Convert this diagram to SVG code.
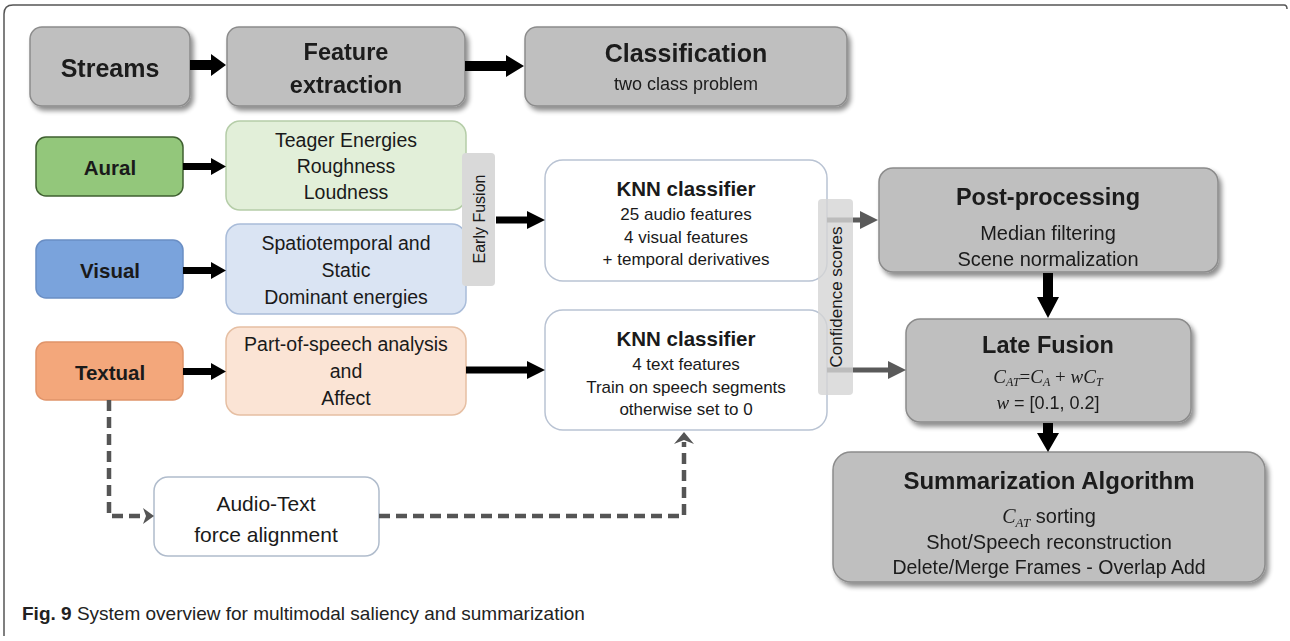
<svg xmlns="http://www.w3.org/2000/svg" width="1290" height="641" viewBox="0 0 1290 641">
<defs>
<style>
.t{font-family:"Liberation Sans",Arial,sans-serif;fill:#1a1a1a;text-anchor:middle;dominant-baseline:central}
.b{font-weight:bold}
.gray{fill:#bfbfbf;stroke:#8c8c8c;stroke-width:1.5}
.m{font-family:"Liberation Serif","Times New Roman",serif;font-style:italic;fill:#1a1a1a}
.blk{fill:#000}
.grf{fill:#5a5a5a}
.dash{stroke:#555;fill:none;stroke-width:4.5;stroke-dasharray:11 6}
</style>
<filter id="sh" x="-10%" y="-10%" width="125%" height="130%">
<feGaussianBlur in="SourceAlpha" stdDeviation="2.5"/>
<feOffset dx="3" dy="4" result="o"/>
<feComponentTransfer><feFuncA type="linear" slope="0.45"/></feComponentTransfer>
<feMerge><feMergeNode/><feMergeNode in="SourceGraphic"/></feMerge>
</filter>
</defs>
<rect width="1290" height="641" fill="#fff"/>
<path d="M4,636 L4,14 Q4,5 13,5 L1284,5 Q1287,5 1287,9" fill="none" stroke="#555" stroke-width="1.5"/>

<g id="streams" filter="url(#sh)"><rect class="gray" x="30" y="27" width="160" height="79" rx="12"/><text class="t b" x="110" y="68" font-size="25">Streams</text></g>
<g id="feature-extraction" filter="url(#sh)"><rect class="gray" x="227" y="27" width="238" height="79" rx="12"/><text class="t b" x="346" y="52" font-size="23.5">Feature</text><text class="t b" x="346" y="85" font-size="23.5">extraction</text></g>
<g id="classification" filter="url(#sh)"><rect class="gray" x="525" y="27" width="322" height="79" rx="12"/><text class="t b" x="686" y="53" font-size="25">Classification</text><text class="t" x="686" y="84" font-size="18" fill="#333">two class problem</text></g>

<g id="aural"><rect x="36" y="137" width="147" height="59" rx="10" fill="#93c77b" stroke="#3f6030" stroke-width="1.5"/><text class="t b" x="110" y="167" font-size="20.5">Aural</text></g>
<g id="visual"><rect x="36" y="240" width="147" height="58" rx="10" fill="#7aa3dc" stroke="#6a8ec4" stroke-width="1.5"/><text class="t b" x="110" y="270" font-size="20.5" fill="#0f1d33">Visual</text></g>
<g id="textual"><rect x="36" y="342" width="147" height="58" rx="10" fill="#f3a77b" stroke="#e0946a" stroke-width="1.5"/><text class="t b" x="110" y="372" font-size="20.5">Textual</text></g>

<g id="aural-features"><rect x="226" y="121" width="240" height="89" rx="14" fill="#e2efd9" stroke="#b5cda8" stroke-width="1.5"/><text class="t" x="346" y="140" font-size="19.5">Teager Energies</text><text class="t" x="346" y="166" font-size="19.5">Roughness</text><text class="t" x="346" y="192" font-size="19.5">Loudness</text></g>
<g id="visual-features"><rect x="226" y="224" width="240" height="90" rx="14" fill="#dae4f3" stroke="#a9bcd9" stroke-width="1.5"/><text class="t" x="346" y="243" font-size="19.5">Spatiotemporal and</text><text class="t" x="346" y="270" font-size="19.5">Static</text><text class="t" x="346" y="297" font-size="19.5">Dominant energies</text></g>
<g id="text-features"><rect x="226" y="327" width="240" height="88" rx="14" fill="#fbe4d5" stroke="#e6bfa3" stroke-width="1.5"/><text class="t" x="346" y="344" font-size="19.5">Part-of-speech analysis</text><text class="t" x="346" y="371" font-size="19.5">and</text><text class="t" x="346" y="398" font-size="19.5">Affect</text></g>

<g id="knn-av"><rect x="545" y="160" width="282" height="121" rx="18" fill="#fff" stroke="#b9c3d3" stroke-width="1.5"/><text class="t b" x="686" y="188" font-size="20.5">KNN classifier</text><text class="t" x="686" y="214" font-size="17">25 audio features</text><text class="t" x="686" y="237" font-size="17">4 visual  features</text><text class="t" x="686" y="259" font-size="17">+ temporal  derivatives</text></g>
<g id="knn-text"><rect x="545" y="310" width="282" height="120" rx="18" fill="#fff" stroke="#b9c3d3" stroke-width="1.5"/><text class="t b" x="686" y="338" font-size="20.5">KNN classifier</text><text class="t" x="686" y="364" font-size="17">4 text features</text><text class="t" x="686" y="387" font-size="17">Train on speech segments</text><text class="t" x="686" y="409" font-size="17">otherwise set to 0</text></g>

<g id="post-processing" filter="url(#sh)"><rect class="gray" x="879" y="168" width="339" height="104" rx="14"/><text class="t b" x="1048" y="197" font-size="23.5">Post-processing</text><text class="t" x="1048" y="233" font-size="20">Median filtering</text><text class="t" x="1048" y="259" font-size="20">Scene normalization</text></g>
<g id="late-fusion" filter="url(#sh)"><rect class="gray" x="906" y="319" width="285" height="103" rx="14"/><text class="t b" x="1048" y="345" font-size="23.5">Late Fusion</text>
<text class="m" x="1048" y="383" font-size="19" text-anchor="middle">C<tspan font-size="12" dy="3">AT</tspan><tspan dy="-3" font-style="normal">=</tspan>C<tspan font-size="12" dy="3">A</tspan><tspan dy="-3" font-style="normal"> + </tspan>wC<tspan font-size="12" dy="3">T</tspan></text>
<text class="m" x="1048" y="409" font-size="19" text-anchor="middle">w<tspan font-style="normal" font-family="Liberation Sans,Arial,sans-serif" font-size="18"> = [0.1, 0.2]</tspan></text></g>
<g id="summarization" filter="url(#sh)"><rect class="gray" x="833" y="452" width="432" height="130" rx="18"/><text class="t b" x="1049" y="480" font-size="24">Summarization Algorithm</text>
<text class="m" x="1049" y="523" font-size="20" text-anchor="middle">C<tspan font-size="13" dy="4">AT</tspan><tspan dy="-4" font-style="normal" font-family="Liberation Sans,Arial,sans-serif" font-size="20"> sorting</tspan></text>
<text class="t" x="1049" y="542" font-size="20">Shot/Speech reconstruction</text><text class="t" x="1049" y="567" font-size="19.5">Delete/Merge Frames - Overlap Add</text></g>

<g id="audio-text-alignment"><rect x="154" y="477" width="225" height="79" rx="14" fill="#fff" stroke="#b0bccc" stroke-width="1.5"/><text class="t" x="266" y="503" font-size="21">Audio-Text</text><text class="t" x="266" y="534" font-size="21">force alignment</text></g>

<g id="connectors">
<path class="blk" d="M190,60 H211 V54 L226,65 L211,76 V70 H190 Z"/>
<path class="blk" d="M465,61 H506 V55 L524,66 L506,77 V71 H465 Z"/>
<path class="blk" d="M183,163 H211 V158 L226,166.5 L211,175 V170 H183 Z"/>
<path class="blk" d="M183,267 H211 V262 L226,270.5 L211,279 V274 H183 Z"/>
<path class="blk" d="M183,368 H211 V363 L226,371.5 L211,380 V375 H183 Z"/>
<path class="blk" d="M496,216.5 H527 V211 L545,220 L527,229 V223.5 H496 Z"/>
<path class="blk" d="M466,366.5 H527 V361 L545,370 L527,379 V373.5 H466 Z"/>
<path class="grf" d="M827,217.5 H860 V211 L878,220 L860,229 V222.5 H827 Z"/>
<path class="grf" d="M827,367.5 H888 V361 L906,370 L888,379 V372.5 H827 Z"/>
<path class="blk" d="M1043,273 H1053 V297 H1059 L1048,318 L1037,297 H1043 Z"/>
<path class="blk" d="M1043,423 H1053 V433 H1059 L1048,452 L1037,433 H1043 Z"/>
<path class="dash" d="M109,400 V516 H146"/>
<path d="M143,508 L154,516 L143,524 L146,516 Z" fill="#555"/>
<path class="dash" d="M379,516 H684 V442"/>
<path d="M674,444 L684,432 L694,444 L684,440 Z" fill="#555"/>
</g>

<g id="early-fusion"><rect x="462" y="153" width="33" height="133" rx="4" fill="#d9d9d9"/><text class="t" transform="translate(479,219) rotate(-90)" font-size="16" fill="#333">Early Fusion</text></g>
<g id="confidence-scores"><rect x="818" y="199" width="35" height="196" rx="4" fill="#d4d4d4" fill-opacity="0.8"/><text class="t" transform="translate(836,297) rotate(-90)" font-size="17" fill="#333">Confidence scores</text></g>

<text x="22" y="613" dominant-baseline="central" font-family="Liberation Sans,Arial,sans-serif" font-size="19" fill="#222"><tspan font-weight="bold">Fig. 9</tspan> System overview for multimodal saliency and summarization</text>
</svg>
